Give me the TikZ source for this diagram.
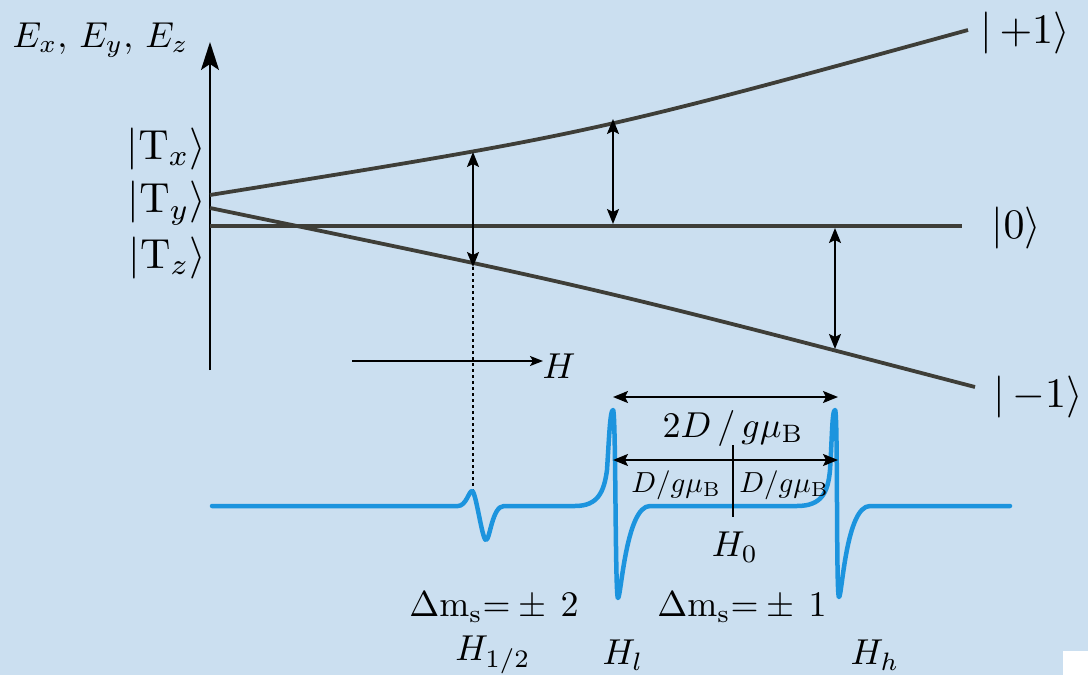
\documentclass[tikz,border=0pt]{standalone}
\usetikzlibrary{arrows.meta}
\definecolor{bg}{RGB}{203,223,240}
\definecolor{lev}{RGB}{62,62,56}
\definecolor{esr}{RGB}{28,148,222}
\begin{document}
\begin{tikzpicture}[x=1pt,y=-1pt,
  lbl/.style={inner sep=0pt,scale=3.6},
  ket/.style={inner sep=0pt,scale=4.2},
  sml/.style={inner sep=0pt,scale=2.9},
  level/.style={draw=lev,line width=3.8pt},
  darr/.style={line width=2pt,{Stealth[length=15pt,width=12pt,inset=3pt]}-{Stealth[length=15pt,width=12pt,inset=3pt]}},
  spec/.style={draw=esr,line width=4.5pt,line join=round,line cap=round}]
\fill[bg] (0,0) rectangle (1088,675);
\useasboundingbox (0,0) rectangle (1088,675);
\fill[white] (1063,651) rectangle (1088,675);

% axis
\coordinate (axb) at (210,370);
\coordinate (axt) at (210,42);
\draw[line width=2pt,-{Stealth[length=28pt,width=18pt,inset=6pt]}] (axb) -- (axt);
\node[lbl,anchor=west] (Elab) at (12,40) {$E_x,\,E_y,\,E_z$};
\node[ket,anchor=east] (Tx) at (207,149) {$|\mathrm{T}_x\rangle$};
\node[ket,anchor=east] (Ty) at (207,203) {$|\mathrm{T}_y\rangle$};
\node[ket,anchor=east] (Tz) at (207,258) {$|\mathrm{T}_z\rangle$};

% levels
\coordinate (u0) at (210,195);
\coordinate (u1) at (968,30);
\coordinate (z0) at (210,226);
\coordinate (z1) at (962,226);
\coordinate (m0) at (210,208);
\coordinate (m1) at (975,387);
\draw[level] (u0) .. controls (589,134) .. (u1);
\draw[level] (z0) -- (z1);
\draw[level] (m0) .. controls (592,287) .. (m1);
\node[ket,anchor=west] (kp) at (980,33) {$|\,{+}1\rangle$};
\node[ket,anchor=west] (k0) at (991,228) {$|0\rangle$};
\node[ket,anchor=west] (km) at (993,397) {$|\,{-}1\rangle$};

% transitions
\coordinate (a1) at (473,152);
\coordinate (a2) at (473,267);
\coordinate (b1) at (613,119);
\coordinate (b2) at (613,224);
\coordinate (c1) at (835,228);
\coordinate (c2) at (835,349);
\draw[darr] (a1) -- (a2);
\draw[darr] (b1) -- (b2);
\draw[darr] (c1) -- (c2);
\coordinate (d2) at (473,490);
\draw[line width=1.8pt,dash pattern=on 3pt off 3pt] (a2) -- (d2);

% H arrow
\coordinate (h1) at (352,361);
\coordinate (h2) at (543,361);
\draw[line width=2pt,-{Stealth[length=13pt,width=10pt,inset=3pt]}] (h1) -- (h2);
\node[lbl,anchor=west] (Hlab) at (542,366) {$H$};

% spectrum
\draw[spec] (212,506) -- (458,506)
  .. controls (466,506) and (469,491) .. (472,491)
  .. controls (476,491) and (482,540) .. (486,540)
  .. controls (490,540) and (492,506) .. (504,506)
  -- (575,506)
  .. controls (598,506) and (604,492) .. (607,470)
  .. controls (609,440) and (610,410) .. (613,410)
  .. controls (616,410) and (615,598) .. (618,598)
  .. controls (621,598) and (626,506) .. (650,506)
  -- (797,506)
  .. controls (822,506) and (828,492) .. (830,470)
  .. controls (832,440) and (832,410) .. (835,410)
  .. controls (838,410) and (836,597) .. (839,597)
  .. controls (842,597) and (846,506) .. (870,506)
  -- (1010,506);

% splitting arrows
\coordinate (s1) at (613,397);
\coordinate (s2) at (838,397);
\coordinate (t1) at (613,460);
\coordinate (t2) at (838,460);
\draw[darr] (s1) -- (s2);
\draw[darr] (t1) -- (t2);
\coordinate (k1) at (733,445);
\coordinate (k2) at (733,517);
\draw[line width=1.2pt] (k1) -- (k2);
\node[lbl] (twoD) at (733,428) {$2D\,/\,g\mu_{\mathrm{B}}$};
\node[sml] (Dl) at (676,485) {$D/g\mu_{\mathrm{B}}$};
\node[sml] (Dr) at (784,485) {$D/g\mu_{\mathrm{B}}$};
\node[lbl] (H0) at (735,547) {$H_{0}$};

% bottom labels
\node[lbl] (dm2) at (494,607) {$\Delta\mathrm{m}_{\mathrm{s}}{=}\pm\,2$};
\node[lbl] (dm1) at (742,607) {$\Delta\mathrm{m}_{\mathrm{s}}{=}\pm\,1$};
\node[lbl] (H12) at (493,655) {$H_{1/2}$};
\node[lbl] (Hl) at (623,655) {$H_{l}$};
\node[lbl] (Hh) at (875,655) {$H_{h}$};
\end{tikzpicture}
\end{document}
